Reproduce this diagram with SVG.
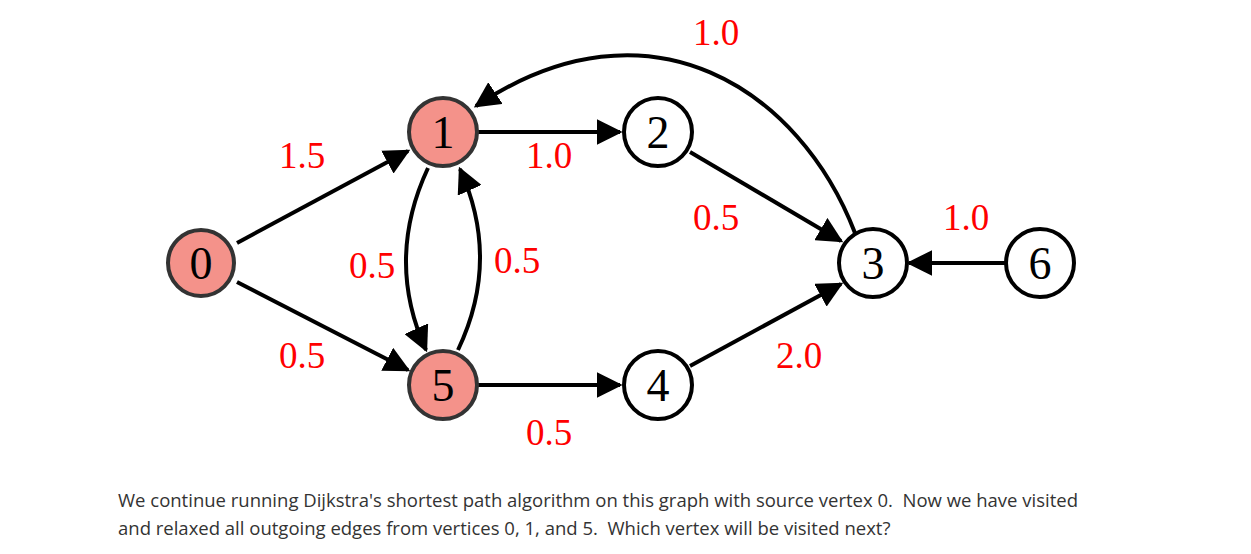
<svg xmlns="http://www.w3.org/2000/svg" width="1251" height="554" viewBox="0 0 1251 554">
<style>
.n circle{stroke:#000;stroke-width:4;fill:#fff}
.n.v circle{fill:#f4928a;stroke:#333}
.n text{font-family:"Liberation Serif",serif;font-size:46px;text-anchor:middle;fill:#000}
.e path{fill:none;stroke:#000;stroke-width:4;marker-end:url(#a)}
.w{font-family:"Liberation Serif",serif;font-size:37px;fill:#f00;text-anchor:middle}
.q{font-family:"Open Sans",sans-serif;font-size:18.5px;fill:#333;white-space:pre}
</style>
<defs><marker id="a" viewBox="0 0 10 10" refX="9" refY="5" markerWidth="6.5" markerHeight="6.5" markerUnits="strokeWidth" orient="auto"><path d="M0,0 L10,5 L0,10 z" fill="#000"/></marker></defs>
<rect width="1251" height="554" fill="#fff"/>
<g id="edges" class="e">
<path d="M237,243 L408,151"/>
<path d="M237,282 L408,370"/>
<path d="M478,132 L620,132"/>
<path d="M690,152 L841,241"/>
<path d="M690,366 L841,284"/>
<path d="M478,385 L620,385"/>
<path d="M1005,263 L909,263"/>
<path d="M855,233 C800,90 650,-10 476,106"/>
<path d="M428,168 Q385,260 426,350"/>
<path d="M458,350 Q501,260 460,169"/>
</g>
<g id="labels">
<text class="w" x="716" y="45">1.0</text>
<text class="w" x="302" y="168">1.5</text>
<text class="w" x="549" y="168">1.0</text>
<text class="w" x="716" y="230">0.5</text>
<text class="w" x="966" y="230">1.0</text>
<text class="w" x="372" y="278">0.5</text>
<text class="w" x="517" y="273">0.5</text>
<text class="w" x="302" y="368">0.5</text>
<text class="w" x="799" y="368">2.0</text>
<text class="w" x="549" y="445">0.5</text>
</g>
<g id="n0" class="n v"><circle cx="201" cy="263" r="33"/><text x="201" y="279">0</text></g>
<g id="n1" class="n v"><circle cx="443" cy="132" r="34"/><text x="443" y="148">1</text></g>
<g id="n2" class="n"><circle cx="658" cy="132" r="34"/><text x="658" y="148">2</text></g>
<g id="n3" class="n"><circle cx="873" cy="263" r="34"/><text x="873" y="279">3</text></g>
<g id="n4" class="n"><circle cx="658" cy="385" r="34"/><text x="658" y="401">4</text></g>
<g id="n5" class="n v"><circle cx="443" cy="385" r="34"/><text x="443" y="401">5</text></g>
<g id="n6" class="n"><circle cx="1040" cy="263" r="34"/><text x="1040" y="279">6</text></g>
<text class="q" x="118" y="507" xml:space="preserve">We continue running Dijkstra's shortest path algorithm on this graph with source vertex 0.  Now we have visited</text>
<text class="q" x="118" y="535" xml:space="preserve">and relaxed all outgoing edges from vertices 0, 1, and 5.  Which vertex will be visited next?</text>
</svg>
